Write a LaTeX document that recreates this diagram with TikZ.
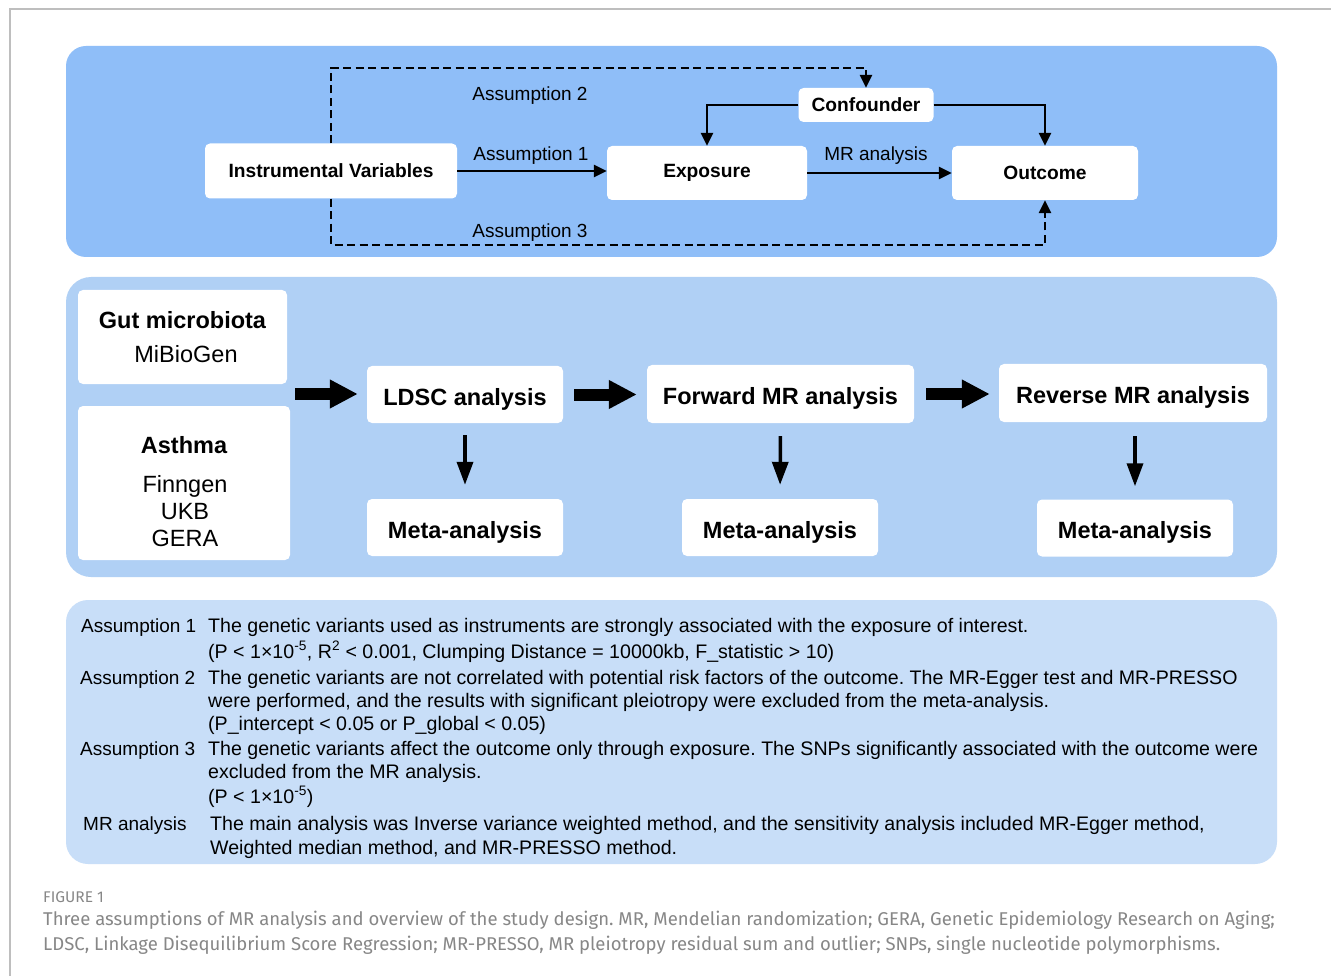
\documentclass[tikz,border=0pt]{standalone}
\usepackage{fontspec}
\setmainfont{Liberation Sans}
\newfontfamily\capfont{Fira Sans}
\usetikzlibrary{arrows.meta,positioning}
\definecolor{topblue}{RGB}{143,190,248}
\definecolor{midblue}{RGB}{176,208,245}
\definecolor{lowblue}{RGB}{200,222,248}
\definecolor{capgray}{RGB}{135,135,135}
\definecolor{framegray}{RGB}{190,190,190}
\frenchspacing

\begin{document}
\begin{tikzpicture}[x=1pt, y=-1pt,
    box/.style={fill=white, rounded corners=5pt, inner sep=0pt, font=\bfseries\fontsize{19.2}{22}\selectfont},
    bigbox/.style={box, text height=21.5pt, text depth=0pt, font=\bfseries\fontsize{23.5}{26}\selectfont},
    srcfont/.style={inner sep=0pt, font=\fontsize{23.5}{27}\selectfont},
    link/.style={line width=2.5pt, -{Triangle[length=13pt,width=12pt]}},
    dashlink/.style={link, dash pattern=on 8pt off 4.5pt},
    bigarrow/.style={line width=12pt, -{Triangle[length=28pt,width=27pt]}},
    downarrow/.style={line width=3.5pt, -{Triangle[length=23pt,width=16pt]}},
    lbl/.style={font=\fontsize{19}{22}\selectfont},
    tag/.style={anchor=base west, inner sep=0pt, font=\fontsize{19}{22}\selectfont},
    txt/.style={anchor=base west, inner sep=0pt, font=\fontsize{19.6}{22}\selectfont},
    captxt/.style={anchor=base west, inner sep=0pt, text=capgray, font=\capfont\fontsize{18.5}{20}\selectfont},
]
    \useasboundingbox (0,0) rectangle (1331,976);
    \fill[white] (0,0) rectangle (1331,976);
    \draw[framegray, line width=1.5pt] (1331,9) -- (10,9) -- (10,976);

    % three panels
    \fill[topblue, rounded corners=20pt] (66,46) rectangle (1277,257);
    \fill[midblue, rounded corners=25pt] (66,277) rectangle (1277,577);
    \fill[lowblue, rounded corners=22pt] (66,600) rectangle (1277,864);

    % assumptions diagram
    \node[box, minimum width=252pt, minimum height=55pt] (iv) at (331,171) {Instrumental Variables};
    \node[box, minimum width=200pt, minimum height=54pt] (exp) at (707,173) {Exposure};
    \node[box, minimum width=186pt, minimum height=54pt] (out) at (1045,173) {Outcome};
    \node[box, minimum width=135pt, minimum height=34pt] (conf) at (866,105) {Confounder};
    \coordinate (top) at (331,68);
    \coordinate (bot) at (331,245);

    \draw[link] (iv.east) -- (iv.east -| exp.west);
    \draw[link] (exp.east) -- (exp.east -| out.west);
    \draw[link] (conf.west) -| (exp.north);
    \draw[link] (conf.east) -| (out.north);
    \draw[dashlink] (iv.north) -- (top) -| (conf.north);
    \draw[dashlink] (iv.south) -- (bot) -| (out.south);

    \node[lbl] at (530,96) {Assumption 2};
    \node[lbl] at (531,156) {Assumption 1};
    \node[lbl] at (530,233) {Assumption 3};
    \node[lbl] at (876,156) {MR analysis};

    % study design
    \node[box, minimum width=209pt, minimum height=94pt] (gut) at (182.5,337) {};
    \node[srcfont, font=\bfseries\fontsize{23.5}{27}\selectfont] at (182.5,320) {Gut microbiota};
    \node[srcfont] at (186,354) {MiBioGen};
    \node[box, minimum width=212pt, minimum height=154pt] (asthma) at (184,483) {};
    \node[srcfont, font=\bfseries\fontsize{23.5}{27}\selectfont] at (184,445) {Asthma};
    \node[srcfont, align=center] at (185,511) {Finngen\\UKB\\GERA};
    \coordinate (src) at (295,394);

    \node[bigbox, minimum width=196pt, minimum height=57pt] (ldsc) at (465,394.5) {LDSC analysis};
    \node[bigbox, minimum width=267pt, minimum height=58pt] (fwd) at (780.5,394) {Forward MR analysis};
    \node[bigbox, minimum width=268pt, minimum height=58pt] (rev) at (1133,393) {Reverse MR analysis};
    \node[bigbox, minimum width=196pt, minimum height=57pt] (meta1) at (465,527.5) {Meta-analysis};
    \node[bigbox, minimum width=196pt, minimum height=57pt] (meta2) at (780,527.5) {Meta-analysis};
    \node[bigbox, minimum width=196pt, minimum height=57pt] (meta3) at (1135,528) {Meta-analysis};

    \draw[bigarrow, shorten >=9pt] (src) -- (src -| ldsc.west);
    \draw[bigarrow, shorten <=11pt, shorten >=10pt] (ldsc.east) -- (ldsc.east -| fwd.west);
    \draw[bigarrow, shorten <=12pt, shorten >=9pt] (fwd.east) -- (fwd.east -| rev.west);
    \draw[downarrow, shorten <=12pt, shorten >=14pt] (ldsc.south) -- (meta1.north);
    \draw[downarrow, shorten <=13pt, shorten >=14pt] (fwd.south) -- (meta2.north);
    \draw[downarrow, shorten <=14pt, shorten >=13pt] (rev.south -| meta3.north) -- (meta3.north);

    % assumption details
    \node[tag] at (81,632) {Assumption 1};
    \node[txt] at (208,632) {The genetic variants used as instruments are strongly associated with the exposure of interest.};
    \node[txt] at (208,658) {(P < 1×10\textsuperscript{-5}, R\textsuperscript{2} < 0.001, Clumping Distance = 10000kb, F\_statistic > 10)};
    \node[tag] at (80,684) {Assumption 2};
    \node[txt] at (208,684) {The genetic variants are not correlated with potential risk factors of the outcome. The MR-Egger test and MR-PRESSO};
    \node[txt] at (208,707) {were performed, and the results with significant pleiotropy were excluded from the meta-analysis.};
    \node[txt] at (208,730) {(P\_intercept < 0.05 or P\_global < 0.05)};
    \node[tag] at (80,755) {Assumption 3};
    \node[txt] at (208,755) {The genetic variants affect the outcome only through exposure. The SNPs significantly associated with the outcome were};
    \node[txt] at (208,778) {excluded from the MR analysis.};
    \node[txt] at (208,803) {(P < 1×10\textsuperscript{-5})};
    \node[tag] at (83,830) {MR analysis};
    \node[txt] at (210,830) {The main analysis was Inverse variance weighted method, and the sensitivity analysis included MR-Egger method,};
    \node[txt] at (210,854) {Weighted median method, and MR-PRESSO method.};

    % caption
    \node[captxt, font=\capfont\fontsize{15.5}{17}\selectfont] (fig) at (43,902) {FIGURE 1};
    \node[captxt] (cap1) at (43,925) {Three assumptions of MR analysis and overview of the study design. MR, Mendelian randomization; GERA, Genetic Epidemiology Research on Aging;};
    \node[captxt] (cap2) at (43,950) {LDSC, Linkage Disequilibrium Score Regression; MR-PRESSO, MR pleiotropy residual sum and outlier; SNPs, single nucleotide polymorphisms.};
\end{tikzpicture}
\end{document}
